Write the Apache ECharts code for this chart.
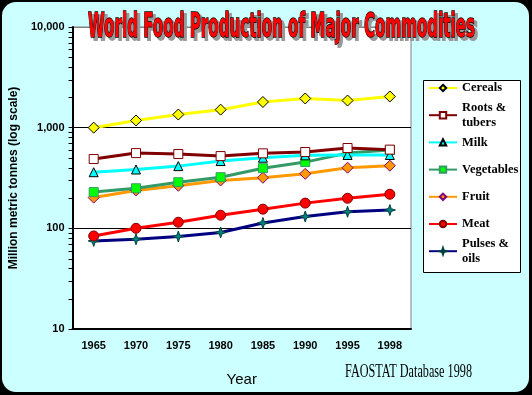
<!DOCTYPE html>
<html>
<head>
<meta charset="utf-8">
<script src="https://cdn.jsdelivr.net/npm/echarts@6/dist/echarts.min.js"></script>
<style>html,body{margin:0;padding:0;background:#000;}#c{width:532px;height:395px;}</style>
</head>
<body>
<div id="c"></div>
<script>
// ---- data ----
const years = ['1965','1970','1975','1980','1985','1990','1995','1998'];
const seriesNames = ['Cereals','Roots &\ntubers','Milk','Vegetables','Fruit','Meat','Pulses &\noils'];
const cereals    = [1000, 1180, 1350, 1510, 1800, 1950, 1860, 2040];
const roots      = [488, 559, 547, 522, 556, 573, 628, 605];
const milk       = [361, 384, 415, 466, 503, 531, 535, 535];
const vegetables = [229, 250, 287, 322, 396, 455, 559, 600];
const fruit      = [202, 238, 265, 299, 318, 348, 400, 419];
const meat       = [84, 100, 115, 135, 155, 178, 199, 218];
const pulses     = [75, 78, 83, 91, 113, 131, 146, 152];
const yTicks = [10, 100, 1000, 10000];
const minorMultipliers = [2,3,4,5,6,7,8,9];

const titleText = 'World Food Production of Major Commodities';
const sourceText = 'FAOSTAT Database 1998';

// ---- styles ----
const values = [cereals, roots, milk, vegetables, fruit, meat, pulses];
const styles = [
  {line:'#FFFF00', symbol:'diamond', size:11, fill:'#FFFF00', border:'#000000'},
  {line:'#800000', symbol:'rect', size:9, fill:'#FFFFFF', border:'#800000'},
  {line:'#00FFFF', symbol:'triangle', size:9, fill:'#00FFFF', border:'#000000'},
  {line:'#339966', symbol:'rect', size:9, fill:'#00FF00', border:'#339966'},
  {line:'#FF9900', symbol:'diamond', size:11, fill:'#FF9900', border:'#800080'},
  {line:'#FF0000', symbol:'circle', size:10, fill:'#FF0000', border:'#800000'},
  {line:'#000080', symbol:'path://M0,-10 L2.5,-2.5 L10,0 L2.5,2.5 L0,10 L-2.5,2.5 L-10,0 L-2.5,-2.5 Z', size:11, fill:'#008080', border:'#004040'}
];

function measure(text, font){
  const c = document.createElement('canvas').getContext('2d');
  c.font = font; return c.measureText(text).width;
}
const titleFont = 'bold 34px "DejaVu Sans Condensed", "Liberation Sans Narrow", "Liberation Sans", sans-serif';
const titleScale = 387 / measure(titleText, titleFont);
const srcFont = '18px "Liberation Serif", serif';
const srcScale = 127 / measure(sourceText, srcFont);

const minorTickData = [];
yTicks.slice(0,3).forEach(d => minorMultipliers.forEach(m => minorTickData.push([0, d*m])));

const series = values.map((v, i) => ({
  name: seriesNames[i],
  type: 'line',
  data: v,
  symbol: styles[i].symbol,
  symbolSize: styles[i].size,
  showAllSymbol: true,
  lineStyle: {color: styles[i].line, width: 3},
  itemStyle: {color: styles[i].fill, borderColor: styles[i].border, borderWidth: 1},
  emphasis: {disabled: true},
  animation: false,
  z: 3 + (values.length - i)
}));
series.push({
  type: 'custom',
  silent: true,
  animation: false,
  data: minorTickData,
  renderItem: function(params, api){
    const p = api.coord([0, api.value(1)]);
    const x0 = params.coordSys.x;
    return {type:'line', shape:{x1:x0-4, y1:Math.round(p[1])+0.5, x2:x0, y2:Math.round(p[1])+0.5}, style:{stroke:'#000', lineWidth:1}};
  }
});

const legendTop0 = 88, legendStep = 27.2;
const legends = seriesNames.map((n, i) => {
  const two = n.indexOf('\n') >= 0;
  return {
    data: [n],
    selectedMode: false,
    orient: 'vertical',
    left: 428,
    top: legendTop0 + i*legendStep - (two ? 22.5 : 7.5),
    padding: 0,
    itemWidth: 28,
    itemHeight: 8,
    textStyle: {fontFamily:'"Liberation Serif", serif', fontWeight:'bold', fontSize:12.5, color:'#000', lineHeight:15, padding: two ? [15,0,0,0] : 0}
  };
});

const chart = echarts.init(document.getElementById('c'), null, {renderer:'canvas'});
chart.setOption({
  backgroundColor: '#000000',
  animation: false,
  graphic: [
    {type:'rect', z:-10, shape:{x:2, y:2, width:527, height:390, r:14}, style:{fill:'#CCFFFF'}},
    {type:'rect', z:-5, shape:{x:423.5, y:80.5, width:97, height:192}, style:{fill:'#FFFFFF', stroke:'#000', lineWidth:1}},
    {type:'text', z:50, x:91, y:31, scaleX:titleScale, style:{text:titleText, font:titleFont, fill:'#999999', stroke:'#999999', lineWidth:2, textAlign:'left', textVerticalAlign:'middle'}},
    {type:'text', z:51, x:88, y:28, scaleX:titleScale, style:{text:titleText, font:titleFont, fill:'#FF0000', stroke:'#000000', lineWidth:1.5, textAlign:'left', textVerticalAlign:'middle'}},
    {type:'text', z:50, x:345, y:372, scaleX:srcScale, style:{text:sourceText, font:srcFont, fill:'#000', textAlign:'left', textVerticalAlign:'middle'}}
  ],
  legend: legends,
  grid: {left:71, right:121, top:27, bottom:66, show:true, backgroundColor:'#FFFFFF', borderColor:'#808080', borderWidth:1, containLabel:false},
  xAxis: {
    type:'category', data: years, boundaryGap:true,
    name:'Year', nameLocation:'middle', nameGap:43,
    nameTextStyle:{fontFamily:'"Liberation Sans", Arial, sans-serif', fontSize:15, color:'#000'},
    axisLine:{show:true, lineStyle:{color:'#000', width:2}},
    axisTick:{show:false},
    axisLabel:{margin:11, fontFamily:'"Liberation Sans", Arial, sans-serif', fontWeight:'bold', fontSize:11, color:'#000'},
    splitLine:{show:false}
  },
  yAxis: {
    type:'log', logBase:10, min:10, max:10000,
    name:'Million metric tonnes (log scale)', nameLocation:'middle', nameGap:45, nameRotate:90,
    nameTextStyle:{fontFamily:'"Liberation Sans", Arial, sans-serif', fontWeight:'bold', fontSize:12, color:'#000'},
    axisLine:{show:true, lineStyle:{color:'#000', width:2}},
    axisTick:{show:true, length:4, lineStyle:{color:'#000', width:1}},
    axisLabel:{margin:8, fontFamily:'"Liberation Sans", Arial, sans-serif', fontWeight:'bold', fontSize:11, color:'#000',
      formatter: v => Number(v).toLocaleString('en-US')},
    splitLine:{show:true, lineStyle:{color:['#000000','#000000','#000000','#808080'], width:1}}
  },
  series: series
});
</script>
</body>
</html>
